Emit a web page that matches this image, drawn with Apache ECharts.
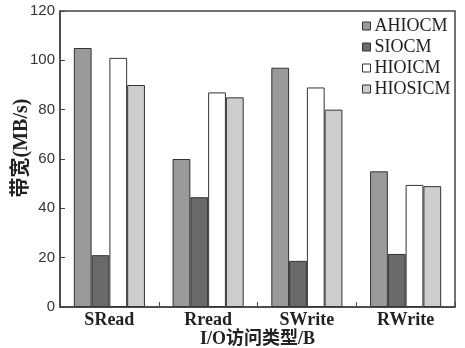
<!DOCTYPE html>
<html><head><meta charset="utf-8">
<script src="https://cdn.jsdelivr.net/npm/echarts@6/dist/echarts.min.js"></script>
<style>html,body{margin:0;padding:0;background:#fff}#c{width:465px;height:348px}</style>
</head><body><div id="c"></div>
<script>
const categories = ['SRead', 'Rread', 'SWrite', 'RWrite'];
const seriesNames = ['AHIOCM', 'SIOCM', 'HIOICM', 'HIOSICM'];
const AHIOCM = [105, 60, 97, 55];
const SIOCM = [21, 44.5, 18.7, 21.5];
const HIOICM = [101, 87, 89, 49.5];
const HIOSICM = [90, 85, 80, 49];
const yTicks = [0, 20, 40, 60, 80, 100, 120];
const colors = ['#9a9a9a', '#6a6a6a', '#ffffff', '#cdcdcd'];
const values = [AHIOCM, SIOCM, HIOICM, HIOSICM];

const serif = '"Liberation Serif","Times New Roman","Noto Sans CJK SC",serif';
const chart = echarts.init(document.getElementById('c'));
chart.setOption({
  animation: false,
  grid: { left: 60, right: 10, top: 11, bottom: 41, outerBoundsMode: 'none', containLabel: false,
    show: true, borderColor: '#444', borderWidth: 1.5, backgroundColor: 'transparent' },
  legend: {
    orient: 'vertical', left: 357, top: 12,
    icon: 'rect', itemWidth: 8, itemHeight: 8, itemGap: 3,
    itemStyle: { borderColor: '#333', borderWidth: 1 },
    textStyle: { fontFamily: serif, fontSize: 18, lineHeight: 18, color: '#222', padding: [0, 0, 0, -1] },
    data: seriesNames
  },
  xAxis: {
    type: 'category', data: categories,
    name: 'I/O访问类型/B', nameLocation: 'middle', nameGap: 23, nameMoveOverlap: false,
    nameTextStyle: { fontFamily: serif, fontSize: 18, fontWeight: 'bold', color: '#222' },
    axisLine: { lineStyle: { color: '#444', width: 1.5 } },
    axisTick: { show: true, inside: true, length: 5, lineStyle: { color: '#444' } },
    axisLabel: { fontFamily: serif, fontSize: 18, fontWeight: 'bold', color: '#222', margin: 4 }
  },
  yAxis: {
    type: 'value', min: 0, max: 120, interval: 20,
    name: '带宽(MB/s)', nameLocation: 'middle', nameGap: 28, nameMoveOverlap: false,
    nameTextStyle: { fontFamily: serif, fontSize: 20, fontWeight: 'bold', color: '#222', padding: [0, 0, 0, 22] },
    axisLine: { show: true, lineStyle: { color: '#444', width: 1.5 } },
    axisTick: { show: true, inside: true, length: 5, lineStyle: { color: '#444' } },
    splitLine: { show: false },
    axisLabel: { fontFamily: '"Liberation Sans",Arial,sans-serif', fontSize: 15, color: '#333', margin: 5,
      formatter: v => yTicks.includes(v) ? String(v) : '' }
  },
  series: seriesNames.map((n, i) => ({
    name: n, type: 'bar', data: values[i],
    barGap: '0%', barCategoryGap: '28%',
    itemStyle: { color: colors[i], borderColor: '#333', borderWidth: 1 }
  }))
});
</script></body></html>
